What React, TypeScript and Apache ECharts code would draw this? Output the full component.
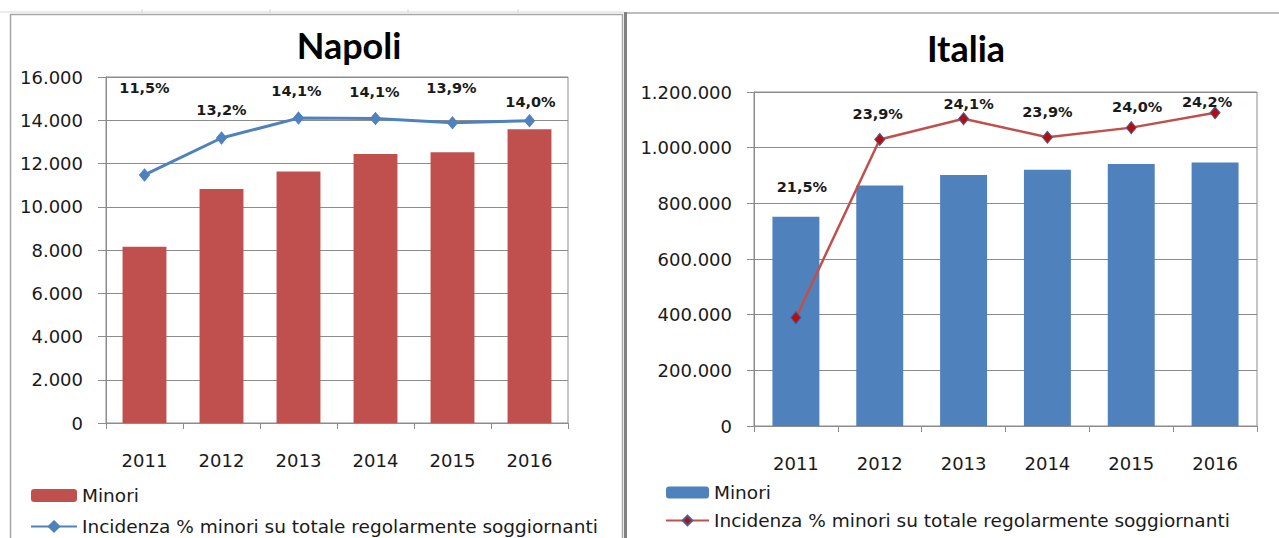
import React, { useEffect, useRef } from "react";
import * as echarts from "echarts";

// ---- data ----
const years = ["2011", "2012", "2013", "2014", "2015", "2016"];
const napoliMinori = [8150, 10820, 11630, 12440, 12520, 13580];
const napoliIncidenza = [11.47, 13.18, 14.1, 14.08, 13.88, 13.98];
const italiaMinori = [752000, 864000, 902000, 921000, 941000, 947000];
const italiaIncidenza = [21.46, 23.86, 24.14, 23.89, 24.02, 24.22];
const napoliAxis = { min: 0, max: 16000, interval: 2000 };
const napoliPctAxis = { min: 0, max: 16 };
const italiaAxis = { min: 0, max: 1200000, interval: 200000 };
const italiaPctAxis = { min: 20, max: 24.5 };
const barName = "Minori";
const lineName = "Incidenza % minori su totale regolarmente soggiornanti";

// label placement tweaks (relative to each point)
const napoliLabelOffsets = [[0, -87], [0, -28], [-2, -27], [-1, -27], [-1, -35], [1, -19]];
const italiaLabelOffsets = [[6, -131], [-2, -26], [5, -15], [0, -25], [6, -21], [-8, -11]];

const FONT = "DejaVu Sans";
const TEXT = "#1a1a1a";
const GRID = "#8c8c8c";

const fmtThousands = (v: number) =>
  String(Math.round(v)).replace(/\B(?=(\d{3})+(?!\d))/g, ".");
const fmtPct = (p: any) => Number(p.value).toFixed(1).replace(".", ",") + "%";

type Cfg = {
  title: string;
  titleX: number;
  titleY: number;
  grid: { left: number; top: number; width: number; height: number };
  axis: { min: number; max: number; interval: number };
  pctAxis: { min: number; max: number };
  bars: number[];
  pct: number[];
  offsets: number[][];
  barColor: string;
  lineColor: string;
  markerColor: string;
  markerBorder: string;
  lineWidth: number;
  yLabelMargin: number;
  yTickLen: number;
  legend: { left: number; top: number; itemWidth: number; itemHeight: number; itemGap: number };
  barGap: string;
  graphics: any[];
};

function makeOption(c: Cfg) {
  const axisLineStyle = { color: GRID, width: 1 };
  return {
    animation: false,
    backgroundColor: "#ffffff",
    graphic: [
      ...c.graphics,
      {
        type: "text",
        x: c.titleX,
        y: c.titleY,
        silent: true,
        style: {
          text: c.title,
          font: "bold 36px Lato",
          fill: "#000000",
          textAlign: "center",
          textVerticalAlign: "middle",
        },
      },
    ],
    legend: {
      orient: "vertical",
      left: c.legend.left,
      top: c.legend.top,
      padding: 0,
      itemWidth: c.legend.itemWidth,
      itemHeight: c.legend.itemHeight,
      itemGap: c.legend.itemGap,
      selectedMode: false,
      textStyle: { fontFamily: FONT, fontSize: 18.5, color: TEXT, lineHeight: 18 },
      data: [barName, lineName],
    },
    grid: {
      left: c.grid.left,
      top: c.grid.top,
      width: c.grid.width,
      height: c.grid.height,
      show: true,
      borderColor: GRID,
      borderWidth: 1,
      backgroundColor: "transparent",
    },
    xAxis: {
      type: "category",
      data: years,
      axisLine: { show: true, lineStyle: axisLineStyle },
      axisTick: { show: true, length: 6, lineStyle: axisLineStyle },
      axisLabel: { margin: 28, fontFamily: FONT, fontSize: 18, color: TEXT },
    },
    yAxis: [
      {
        type: "value",
        min: c.axis.min,
        max: c.axis.max,
        interval: c.axis.interval,
        axisLine: { show: true, lineStyle: axisLineStyle },
        axisTick: { show: true, length: c.yTickLen, lineStyle: axisLineStyle },
        splitLine: { show: true, lineStyle: { color: GRID, width: 1 } },
        axisLabel: {
          formatter: fmtThousands,
          margin: c.yLabelMargin,
          fontFamily: FONT,
          fontSize: 18,
          color: TEXT,
        },
      },
      {
        type: "value",
        min: c.pctAxis.min,
        max: c.pctAxis.max,
        show: false,
        splitLine: { show: false },
      },
    ],
    series: [
      {
        type: "bar",
        name: barName,
        data: c.bars,
        barCategoryGap: c.barGap,
        itemStyle: { color: c.barColor },
      },
      {
        type: "line",
        name: lineName,
        yAxisIndex: 1,
        data: c.pct.map((v, i) => ({ value: v, label: { offset: c.offsets[i] } })),
        symbol: "diamond",
        symbolSize: [10, 12],
        lineStyle: { color: c.lineColor, width: c.lineWidth },
        itemStyle: { color: c.markerColor, borderColor: c.markerBorder, borderWidth: 1 },
        label: {
          show: true,
          position: "inside",
          formatter: fmtPct,
          fontFamily: FONT,
          fontWeight: "bold",
          fontSize: 14.5,
          color: TEXT,
        },
        z: 5,
      },
    ],
  };
}

const leftGraphics = [
  { type: "line", silent: true, shape: { x1: 0, y1: 12, x2: 624, y2: 12 }, style: { stroke: "#d6d6d6", lineWidth: 1 } },
  { type: "line", silent: true, shape: { x1: 142, y1: 9, x2: 142, y2: 13 }, style: { stroke: "#d6d6d6", lineWidth: 1 } },
  { type: "line", silent: true, shape: { x1: 270, y1: 9, x2: 270, y2: 13 }, style: { stroke: "#d6d6d6", lineWidth: 1 } },
  { type: "line", silent: true, shape: { x1: 408, y1: 9, x2: 408, y2: 13 }, style: { stroke: "#d6d6d6", lineWidth: 1 } },
  { type: "line", silent: true, shape: { x1: 518, y1: 9, x2: 518, y2: 13 }, style: { stroke: "#d6d6d6", lineWidth: 1 } },
  { type: "rect", silent: true, shape: { x: 10.5, y: 14.5, width: 612, height: 540 }, style: { fill: "none", stroke: "#a6a6a6", lineWidth: 1.5 } },
];

const rightGraphics = [
  { type: "line", silent: true, shape: { x1: 0, y1: 13, x2: 655, y2: 13 }, style: { stroke: "#a6a6a6", lineWidth: 1.5 } },
  { type: "rect", silent: true, shape: { x: 0, y: 12, width: 3, height: 530 }, style: { fill: "#808080" } },
];

export default function App() {
  const leftRef = useRef<HTMLDivElement>(null);
  const rightRef = useRef<HTMLDivElement>(null);

  useEffect(() => {
    const left = echarts.init(leftRef.current!, undefined, { renderer: "svg" });
    const right = echarts.init(rightRef.current!, undefined, { renderer: "svg" });
    left.setOption(
      makeOption({
        title: "Napoli",
        titleX: 349,
        titleY: 45,
        grid: { left: 106, top: 77, width: 462, height: 346 },
        axis: napoliAxis,
        pctAxis: napoliPctAxis,
        bars: napoliMinori,
        pct: napoliIncidenza,
        offsets: napoliLabelOffsets,
        barColor: "#C0504D",
        lineColor: "#4F81BD",
        markerColor: "#4F81BD",
        markerBorder: "#4F81BD",
        lineWidth: 3,
        yLabelMargin: 23,
        yTickLen: 8,
        legend: { left: 30, top: 486, itemWidth: 46, itemHeight: 13, itemGap: 12 },
        barGap: "43%",
        graphics: leftGraphics,
      })
    );
    right.setOption(
      makeOption({
        title: "Italia",
        titleX: 342,
        titleY: 48,
        grid: { left: 130, top: 92, width: 503, height: 334 },
        axis: italiaAxis,
        pctAxis: italiaPctAxis,
        bars: italiaMinori,
        pct: italiaIncidenza,
        offsets: italiaLabelOffsets,
        barColor: "#4F81BD",
        lineColor: "#C0504D",
        markerColor: "#B80D0D",
        markerBorder: "#3F5F9F",
        lineWidth: 2.5,
        yLabelMargin: 22,
        yTickLen: 7,
        legend: { left: 41, top: 483, itemWidth: 43, itemHeight: 12, itemGap: 9 },
        barGap: "44%",
        graphics: rightGraphics,
      })
    );
    return () => {
      left.dispose();
      right.dispose();
    };
  }, []);

  return (
    <div style={{ position: "fixed", left: 0, top: 0, width: 1279, height: 538, background: "#fff", overflow: "hidden" }}>
      <div ref={leftRef} style={{ position: "absolute", left: 0, top: 0, width: 624, height: 538 }} />
      <div ref={rightRef} style={{ position: "absolute", left: 624, top: 0, width: 655, height: 538 }} />
    </div>
  );
}
